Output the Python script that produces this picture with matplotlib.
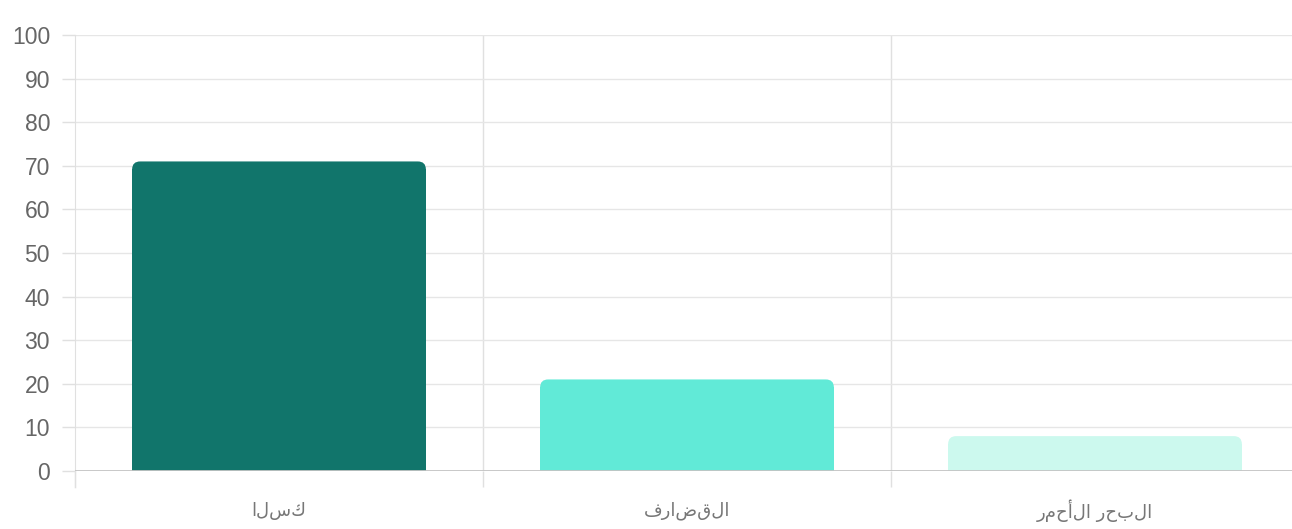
import matplotlib
matplotlib.use("Agg")
import matplotlib.pyplot as plt
from matplotlib.patches import FancyBboxPatch
from matplotlib.ticker import MultipleLocator, FixedLocator

# data
regions = ["كسلا", "القضارف", "البحر الأحمر"]
values = [71, 21, 8]
bar_colors = ["#11756b", "#61ead7", "#ccf9ee"]

plt.rcParams["font.family"] = ["Liberation Sans", "DejaVu Sans"]

W, H, DPI = 1292, 529, 100
fig = plt.figure(figsize=(W / DPI, H / DPI), dpi=DPI, facecolor="white")
ax = fig.add_axes([75 / W, 58 / H, 1224 / W, 436 / H])

ax.set_xlim(-0.5, len(values) - 0.5)
ax.set_ylim(0, 100)

# pixel -> data scale, for the rounded tops
px_x = (len(values)) / 1224
px_y = 100 / 436
r_px = 8
rx, ry = r_px * px_x, r_px * px_y

xs = list(range(len(values)))
bars = ax.bar(xs, values, width=0.72, color=bar_colors, zorder=3, linewidth=0)
for b, c in zip(bars, bar_colors):
    x0, w, h = b.get_x(), b.get_width(), b.get_height()
    b.set_height(max(h - ry, 0))
    ax.add_patch(FancyBboxPatch((x0, 0), w, h, boxstyle=f"round,pad=0,rounding_size={rx}",
                                mutation_aspect=ry / rx, facecolor=c, edgecolor="none", zorder=3))

ax.axhline(0, color="#c4c4c4", linewidth=1.3, zorder=4)

ax.yaxis.set_major_locator(MultipleLocator(10))
ax.set_xticks(xs)
ax.set_xticklabels([s[::-1] for s in regions], family=["DejaVu Sans"], fontsize=13,
                   color="#777777", va="center")
ax.xaxis.set_minor_locator(FixedLocator([0.5, 1.5]))
ax.tick_params(axis="x", which="major", length=0, pad=28.5)
ax.tick_params(axis="x", which="minor", length=11.5, color="#e0e0e0", width=1)
ax.tick_params(axis="y", length=9.5, color="#e0e0e0", width=1, labelsize=16.5, labelcolor="#666666", pad=8.5)
ax.grid(axis="y", color="#e6e6e6", linewidth=1, zorder=0)
ax.grid(axis="x", which="minor", color="#e0e0e0", linewidth=1, zorder=0)

for s in ["top", "right", "bottom"]:
    ax.spines[s].set_visible(False)
ax.spines["left"].set_color("#e0e0e0")
ax.spines["left"].set_bounds(-3.6, 100)
# y-axis line extends below the 0 line like the tick marks
ax.plot([-0.5, -0.5], [0, -3.6], color="#e0e0e0", linewidth=1, clip_on=False)

fig.savefig("out.png", dpi=DPI, facecolor="white")
